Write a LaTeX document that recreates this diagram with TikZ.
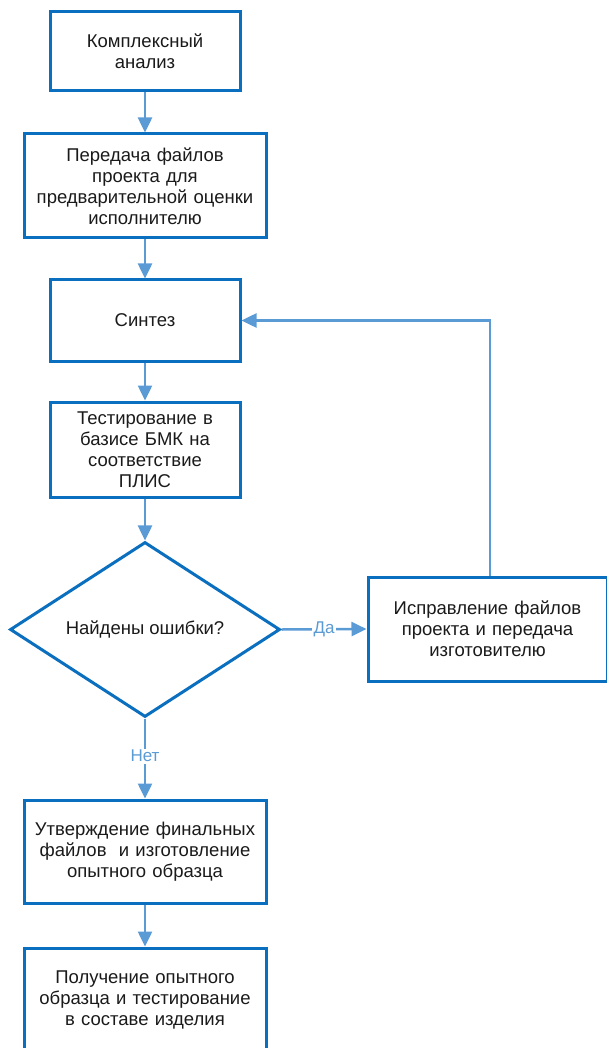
\documentclass[tikz,border=0pt]{standalone}
\usepackage{fontspec}
\setmainfont{Liberation Sans}
\usetikzlibrary{shapes.geometric,arrows.meta}
\definecolor{boxblue}{HTML}{0B6FBF}
\definecolor{arrblue}{HTML}{5B9BD5}
\definecolor{txt}{HTML}{1A1A1A}
\tikzset{
  stepbox/.style={draw=boxblue, line width=3pt, rectangle, align=center, text=txt,
    font=\fontsize{18.5}{21}\selectfont, inner sep=2pt},
  decision/.style={draw=boxblue, line width=3pt, diamond, aspect=1.543, inner sep=0pt,
    minimum width=270pt, minimum height=175pt, text=txt, font=\fontsize{18.5}{21}\selectfont},
  arr/.style={draw=arrblue, line width=2.5pt, -{Triangle[length=15pt,width=14pt]}},
  lbl/.style={fill=white, text=arrblue, font=\fontsize{17}{19}\selectfont, inner sep=1.5pt}
}
\begin{document}
\begin{tikzpicture}[x=1pt,y=-1pt]
\useasboundingbox (0,0) rectangle (606,1048);
\node[stepbox, minimum width=190pt, minimum height=79pt, text width=184pt] (b1) at (145,51.5) {Комплексный\\анализ};
\node[stepbox, minimum width=242pt, minimum height=104pt, text width=236pt] (b2) at (145,186) {Передача файлов\\проекта для\\предварительной оценки\\исполнителю};
\node[stepbox, minimum width=190pt, minimum height=81pt, text width=184pt] (b3) at (145,320.5) {Синтез};
\node[stepbox, minimum width=190pt, minimum height=95pt, text width=184pt] (b4) at (145,449.5) {Тестирование в\\базисе БМК на\\соответствие\\ПЛИС};
\node[decision] (d) at (145,629.5) {Найдены ошибки?};
\node[stepbox, minimum width=239pt, minimum height=104pt, text width=233pt] (fix) at (487.5,629) {Исправление файлов\\проекта и передача\\изготовителю};
\node[stepbox, minimum width=242pt, minimum height=103pt, text width=236pt] (b5) at (145,851.5) {Утверждение финальных\\файлов\ \ и изготовление\\опытного образца};
\node[stepbox, minimum width=242pt, minimum height=104pt, text width=236pt] (b6) at (145,1000) {Получение опытного\\образца и тестирование\\в составе изделия};
\draw[arr] (b1) -- (b2);
\draw[arr] (b2) -- (b3);
\draw[arr] (b3) -- (b4);
\draw[arr] (b4) -- (d);
\draw[arr] (d.east) -- node[lbl, pos=0.5] (da) {Да} (fix.west);
\draw[arr] (d.south) -- node[lbl, pos=0.47] (net) {Нет} (b5.north);
\draw[arr] (b5) -- (b6);
\draw[arr] ([xshift=2.5pt]fix.north) |- (b3.east);
\end{tikzpicture}
\end{document}
